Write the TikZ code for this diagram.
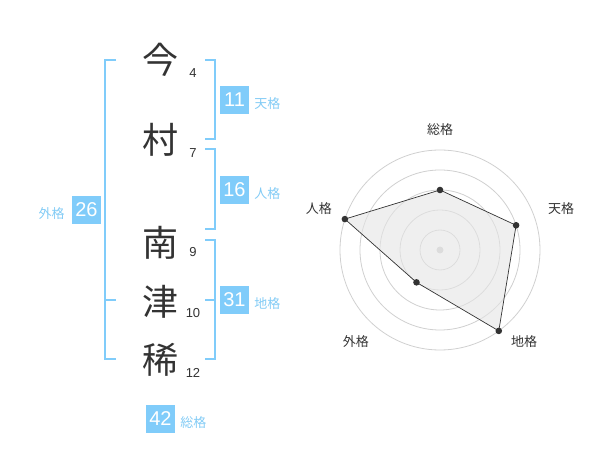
\documentclass[tikz,border=0pt]{standalone}
\usepackage{fontspec}
\usepackage{xcolor}
\setmainfont{Liberation Sans}
\newfontfamily\jp{Noto Sans CJK JP}
\definecolor{kakublue}{HTML}{80CCFA}
\definecolor{kakulabel}{HTML}{82CBF5}
\definecolor{ink}{HTML}{333333}
\definecolor{ring}{HTML}{D0D0D0}
\usetikzlibrary{positioning}

\begin{document}
\begin{tikzpicture}[x=1pt,y=-1pt,
    kanji/.style={inner sep=0, text=ink, font=\jp\fontsize{36}{36}\selectfont},
    strokes/.style={inner sep=0, text=ink, font=\fontsize{13}{13}\selectfont},
    kakubox/.style={fill=kakublue, text=white, inner sep=0, minimum width=29, minimum height=28, font=\fontsize{20}{20}\selectfont},
    kakuname/.style={inner sep=0, text=kakulabel, font=\jp\fontsize{13}{13}\selectfont},
    brace/.style={draw=kakublue, line width=2},
    axisname/.style={inner sep=0, text=ink, font=\jp\fontsize{13}{13}\selectfont}]
             \useasboundingbox (0,0) rectangle (600,470);

             % name, one character per row
             \node[kanji] (k1) at (160, 60) {今};
             \node[kanji] (k2) at (160,140) {村};
             \node[kanji] (k3) at (160,243) {南};
             \node[kanji] (k4) at (160,302) {津};
             \node[kanji] (k5) at (160,360) {稀};

             \node[strokes] (s1) at (193, 73) {4};
             \node[strokes] (s2) at (193,153) {7};
             \node[strokes] (s3) at (193,252) {9};
             \node[strokes] (s4) at (193,313) {10};
             \node[strokes] (s5) at (193,373) {12};

             % brackets
             \draw[brace] (116,60) -- (105,60) -- (105,359) -- (116,359);
             \draw[brace] (105,300) -- (116,300);

             \draw[brace] (205,60) -- (215,60) -- (215,139) -- (205,139);
             \draw[brace] (205,149) -- (215,149) -- (215,229) -- (205,229);
             \draw[brace] (205,240) -- (215,240) -- (215,359) -- (205,359);
             \draw[brace] (215,300) -- (205,300);

             % values
             \node[kakubox] (ten) at (234.5,100) {11};
             \node[kakuname, right=5 of ten, yshift=-4] (tenname) {天格};
             \node[kakubox] (jin) at (234.5,190) {16};
             \node[kakuname, right=5 of jin, yshift=-4] (jinname) {人格};
             \node[kakubox] (chi) at (234.5,300) {31};
             \node[kakuname, right=5 of chi, yshift=-4] (chiname) {地格};
             \node[kakubox] (gai) at (86.5,210) {26};
             \node[kakuname, left=7 of gai, yshift=-4] (gainame) {外格};
             \node[kakubox] (sou) at (160.5,419) {42};
             \node[kakuname, right=5 of sou, yshift=-4] (souname) {総格};

             % radar
             \begin{scope}[shift={(440,250)}, yscale=-1]
             \foreach \r in {20,40,60,80,100}
                 \draw[ring, line width=0.8] (0,0) circle (\r);
             \fill[ring] (0,0) circle (3.5);

             \coordinate (p1) at (90:60);
             \coordinate (p2) at (18:80);
             \coordinate (p3) at (-54:100);
             \coordinate (p4) at (-126:40);
             \coordinate (p5) at (162:100);
             \filldraw[fill=black!10, fill opacity=0.6, draw=ink, line width=0.7]
                 (p1) -- (p2) -- (p3) -- (p4) -- (p5) -- cycle;
             \foreach \p in {p1,p2,p3,p4,p5}
                 \fill[ink] (\p) circle (3.3);

             \node[axisname] (a1) at (90:120) {総格};
             \node[axisname] (a2) at (18.9:128) {天格};
             \node[axisname] (a3) at (-47.3:124) {地格};
             \node[axisname] (a4) at (-132.7:124) {外格};
             \node[axisname] (a5) at (161.1:128) {人格};
             \end{scope}
             \end{tikzpicture}
\end{document}
